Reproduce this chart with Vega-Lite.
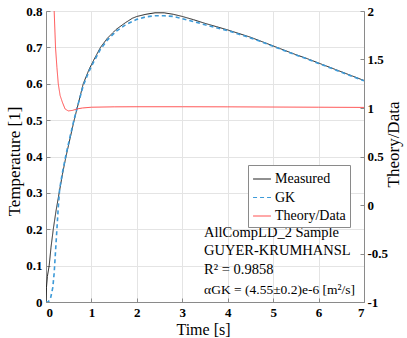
{
  "$schema": "https://vega.github.io/schema/vega-lite/v6.json",
  "autosize": {"type": "none"},
  "width": 318,
  "height": 291,
  "padding": {"left": 46, "top": 11, "right": 43, "bottom": 36},
  "background": "white",
  "datasets": {
    "temp": [
      {"t": 0, "v": 0, "s": "Measured"},
      {"t": 0.01, "v": 0.04, "s": "Measured"},
      {"t": 0.03, "v": 0.07, "s": "Measured"},
      {"t": 0.07, "v": 0.1, "s": "Measured"},
      {"t": 0.11, "v": 0.15, "s": "Measured"},
      {"t": 0.16, "v": 0.2, "s": "Measured"},
      {"t": 0.22, "v": 0.25, "s": "Measured"},
      {"t": 0.29, "v": 0.3, "s": "Measured"},
      {"t": 0.36, "v": 0.35, "s": "Measured"},
      {"t": 0.44, "v": 0.4, "s": "Measured"},
      {"t": 0.53, "v": 0.45, "s": "Measured"},
      {"t": 0.62, "v": 0.5, "s": "Measured"},
      {"t": 0.72, "v": 0.55, "s": "Measured"},
      {"t": 0.82, "v": 0.6, "s": "Measured"},
      {"t": 0.95, "v": 0.64, "s": "Measured"},
      {"t": 1.05, "v": 0.665, "s": "Measured"},
      {"t": 1.2, "v": 0.7, "s": "Measured"},
      {"t": 1.35, "v": 0.725, "s": "Measured"},
      {"t": 1.55, "v": 0.75, "s": "Measured"},
      {"t": 1.75, "v": 0.768, "s": "Measured"},
      {"t": 1.9, "v": 0.78, "s": "Measured"},
      {"t": 2.0, "v": 0.785, "s": "Measured"},
      {"t": 2.2, "v": 0.791, "s": "Measured"},
      {"t": 2.4, "v": 0.795, "s": "Measured"},
      {"t": 2.6, "v": 0.795, "s": "Measured"},
      {"t": 2.8, "v": 0.791, "s": "Measured"},
      {"t": 3.0, "v": 0.785, "s": "Measured"},
      {"t": 3.25, "v": 0.776, "s": "Measured"},
      {"t": 3.5, "v": 0.766, "s": "Measured"},
      {"t": 3.75, "v": 0.757, "s": "Measured"},
      {"t": 4.0, "v": 0.748, "s": "Measured"},
      {"t": 4.25, "v": 0.738, "s": "Measured"},
      {"t": 4.5, "v": 0.728, "s": "Measured"},
      {"t": 4.75, "v": 0.716, "s": "Measured"},
      {"t": 5.0, "v": 0.704, "s": "Measured"},
      {"t": 5.25, "v": 0.692, "s": "Measured"},
      {"t": 5.5, "v": 0.68, "s": "Measured"},
      {"t": 5.75, "v": 0.669, "s": "Measured"},
      {"t": 6.0, "v": 0.657, "s": "Measured"},
      {"t": 6.25, "v": 0.645, "s": "Measured"},
      {"t": 6.5, "v": 0.633, "s": "Measured"},
      {"t": 6.75, "v": 0.621, "s": "Measured"},
      {"t": 7.0, "v": 0.609, "s": "Measured"},
      {"t": 0, "v": 0, "s": "GK"},
      {"t": 0.05, "v": 0, "s": "GK"},
      {"t": 0.1, "v": 0.01, "s": "GK"},
      {"t": 0.15, "v": 0.04, "s": "GK"},
      {"t": 0.18, "v": 0.08, "s": "GK"},
      {"t": 0.21, "v": 0.14, "s": "GK"},
      {"t": 0.24, "v": 0.2, "s": "GK"},
      {"t": 0.27, "v": 0.26, "s": "GK"},
      {"t": 0.3, "v": 0.31, "s": "GK"},
      {"t": 0.36, "v": 0.355, "s": "GK"},
      {"t": 0.44, "v": 0.405, "s": "GK"},
      {"t": 0.53, "v": 0.455, "s": "GK"},
      {"t": 0.62, "v": 0.503, "s": "GK"},
      {"t": 0.72, "v": 0.55, "s": "GK"},
      {"t": 0.82, "v": 0.595, "s": "GK"},
      {"t": 0.95, "v": 0.635, "s": "GK"},
      {"t": 1.05, "v": 0.66, "s": "GK"},
      {"t": 1.2, "v": 0.695, "s": "GK"},
      {"t": 1.35, "v": 0.72, "s": "GK"},
      {"t": 1.55, "v": 0.745, "s": "GK"},
      {"t": 1.75, "v": 0.762, "s": "GK"},
      {"t": 2.0, "v": 0.777, "s": "GK"},
      {"t": 2.2, "v": 0.784, "s": "GK"},
      {"t": 2.4, "v": 0.787, "s": "GK"},
      {"t": 2.6, "v": 0.787, "s": "GK"},
      {"t": 2.8, "v": 0.785, "s": "GK"},
      {"t": 3.0, "v": 0.779, "s": "GK"},
      {"t": 3.25, "v": 0.771, "s": "GK"},
      {"t": 3.5, "v": 0.762, "s": "GK"},
      {"t": 3.75, "v": 0.754, "s": "GK"},
      {"t": 4.0, "v": 0.746, "s": "GK"},
      {"t": 4.25, "v": 0.736, "s": "GK"},
      {"t": 4.5, "v": 0.726, "s": "GK"},
      {"t": 4.75, "v": 0.715, "s": "GK"},
      {"t": 5.0, "v": 0.703, "s": "GK"},
      {"t": 5.25, "v": 0.691, "s": "GK"},
      {"t": 5.5, "v": 0.679, "s": "GK"},
      {"t": 5.75, "v": 0.668, "s": "GK"},
      {"t": 6.0, "v": 0.656, "s": "GK"},
      {"t": 6.25, "v": 0.644, "s": "GK"},
      {"t": 6.5, "v": 0.632, "s": "GK"},
      {"t": 6.75, "v": 0.62, "s": "GK"},
      {"t": 7.0, "v": 0.608, "s": "GK"}
    ],
    "ratio": [
      {"t": 0.0, "r": 6.0, "s": "Theory/Data"},
      {"t": 0.12, "r": 3.0, "s": "Theory/Data"},
      {"t": 0.18, "r": 2.0, "s": "Theory/Data"},
      {"t": 0.21, "r": 1.62, "s": "Theory/Data"},
      {"t": 0.24, "r": 1.42, "s": "Theory/Data"},
      {"t": 0.27, "r": 1.25, "s": "Theory/Data"},
      {"t": 0.31, "r": 1.13, "s": "Theory/Data"},
      {"t": 0.36, "r": 1.06, "s": "Theory/Data"},
      {"t": 0.42, "r": 0.99, "s": "Theory/Data"},
      {"t": 0.49, "r": 0.97, "s": "Theory/Data"},
      {"t": 0.58, "r": 0.975, "s": "Theory/Data"},
      {"t": 0.68, "r": 0.99, "s": "Theory/Data"},
      {"t": 0.8, "r": 1.0, "s": "Theory/Data"},
      {"t": 1.0, "r": 1.008, "s": "Theory/Data"},
      {"t": 1.5, "r": 1.012, "s": "Theory/Data"},
      {"t": 2.0, "r": 1.013, "s": "Theory/Data"},
      {"t": 3.0, "r": 1.013, "s": "Theory/Data"},
      {"t": 4.0, "r": 1.012, "s": "Theory/Data"},
      {"t": 5.0, "r": 1.01, "s": "Theory/Data"},
      {"t": 6.0, "r": 1.008, "s": "Theory/Data"},
      {"t": 7.0, "r": 1.006, "s": "Theory/Data"}
    ],
    "notes": [
      {"t": 3.48, "v": 0.189, "label": "AllCompLD_2 Sample"},
      {"t": 3.48, "v": 0.14, "label": "GUYER-KRUMHANSL"},
      {"t": 3.48, "v": 0.087, "label": "R² = 0.9858"},
      {"t": 3.48, "v": 0.032, "label": "αGK = (4.55±0.2)e-6 [m²/s]"}
    ]
  },
  "encoding": {
    "x": {"field": "t", "type": "quantitative", "scale": {"domain": [0, 7], "nice": false},
      "axis": {"values": [0, 1, 2, 3, 4, 5, 6, 7], "format": "d", "grid": true, "tickSize": -4, "labelPadding": 8,
        "title": "Time [s]", "titleFontSize": 16, "titleX": 157, "titleY": 27, "titleBaseline": "middle", "titleAlign": "center"}}
  },
  "layer": [
    {
      "encoding": {
        "y": {"field": "v", "type": "quantitative", "scale": {"domain": [0, 0.8], "nice": false, "zero": false},
          "axis": {"orient": "left", "values": [0, 0.1, 0.2, 0.3, 0.4, 0.5, 0.6, 0.7, 0.8], "format": ".1~f", "grid": true,
            "tickSize": -4, "labelPadding": 8,
            "title": "Temperature [1]", "titleX": -32, "titleY": 150, "titleAngle": 270, "titleAlign": "center", "titleBaseline": "middle"}}
      },
      "layer": [
        {
          "data": {"name": "temp"},
          "transform": [{"filter": "datum.s == 'Measured'"}],
          "mark": {"type": "line", "strokeWidth": 1, "clip": true},
          "encoding": {
            "color": {"field": "s", "type": "nominal", "scale": {"domain": ["Measured", "GK", "Theory/Data"], "range": ["#222222", "#3d9ad8", "#ff5252"]}, "legend": {"title": null}},
            "strokeDash": {"field": "s", "type": "nominal", "scale": {"domain": ["Measured", "GK", "Theory/Data"], "range": [[1, 0], [4, 3], [1, 0]]}, "legend": {"title": null}}
          }
        },
        {
          "data": {"name": "temp"},
          "transform": [{"filter": "datum.s == 'GK'"}],
          "mark": {"type": "line", "strokeWidth": 1.6, "clip": true},
          "encoding": {
            "color": {"field": "s", "type": "nominal", "scale": {"domain": ["Measured", "GK", "Theory/Data"], "range": ["#222222", "#3d9ad8", "#ff5252"]}, "legend": {"title": null}},
            "strokeDash": {"field": "s", "type": "nominal", "scale": {"domain": ["Measured", "GK", "Theory/Data"], "range": [[1, 0], [4, 3], [1, 0]]}, "legend": {"title": null}}
          }
        },
        {
          "data": {"name": "notes"},
          "transform": [{"filter": "indexof(datum.label, 'α') < 0"}],
          "mark": {"type": "text", "align": "left", "baseline": "middle", "font": "Liberation Serif", "fontSize": 14.5, "color": "black"},
          "encoding": {"text": {"field": "label"}}
        },
        {
          "data": {"name": "notes"},
          "transform": [{"filter": "indexof(datum.label, 'α') >= 0"}],
          "mark": {"type": "text", "align": "left", "baseline": "middle", "font": "Liberation Serif", "fontSize": 13.5, "color": "black"},
          "encoding": {"text": {"field": "label"}}
        }
      ]
    },
    {
      "data": {"name": "ratio"},
      "mark": {"type": "line", "strokeWidth": 1, "clip": true},
      "encoding": {
        "y": {"field": "r", "type": "quantitative", "scale": {"domain": [-1, 2], "nice": false, "zero": false},
          "axis": {"orient": "right", "values": [-1, -0.5, 0, 0.5, 1, 1.5, 2], "labelExpr": "replace(format(datum.value, '.1~f'), '\u2212', '-')", "grid": false,
            "tickSize": -4, "labelPadding": 7,
            "title": "Theory/Data", "titleX": 29, "titleY": 133, "titleAngle": 270, "titleAlign": "center", "titleBaseline": "middle"}},
        "color": {"field": "s", "type": "nominal", "scale": {"domain": ["Measured", "GK", "Theory/Data"], "range": ["#222222", "#3d9ad8", "#ff5252"]}, "legend": {"title": null}},
        "strokeDash": {"field": "s", "type": "nominal", "scale": {"domain": ["Measured", "GK", "Theory/Data"], "range": [[1, 0], [4, 3], [1, 0]]}, "legend": {"title": null}}
      }
    }
  ],
  "resolve": {"scale": {"y": "independent"}},
  "config": {
    "view": {"stroke": "#8a8a8a", "strokeWidth": 1},
    "axis": {
      "domainColor": "#8a8a8a", "tickColor": "#8a8a8a", "gridColor": "#e4e4e4", "gridWidth": 1,
      "labelFont": "Liberation Serif", "labelFontWeight": "bold", "labelFontSize": 13, "labelColor": "black",
      "titleFont": "Liberation Serif", "titleFontWeight": "normal", "titleFontSize": 17, "titleColor": "black"
    },
    "legend": {
      "orient": "none", "legendX": 202, "legendY": 154,
      "fillColor": "white", "strokeColor": "#8a8a8a", "padding": 4,
      "symbolType": "stroke", "symbolSize": 320, "symbolStrokeWidth": 1.2, "symbolOffset": 0,
      "labelFont": "Liberation Serif", "labelFontWeight": "normal", "labelFontSize": 14, "labelColor": "black", "labelOffset": 3,
      "rowPadding": 1.5
    }
  }
}
